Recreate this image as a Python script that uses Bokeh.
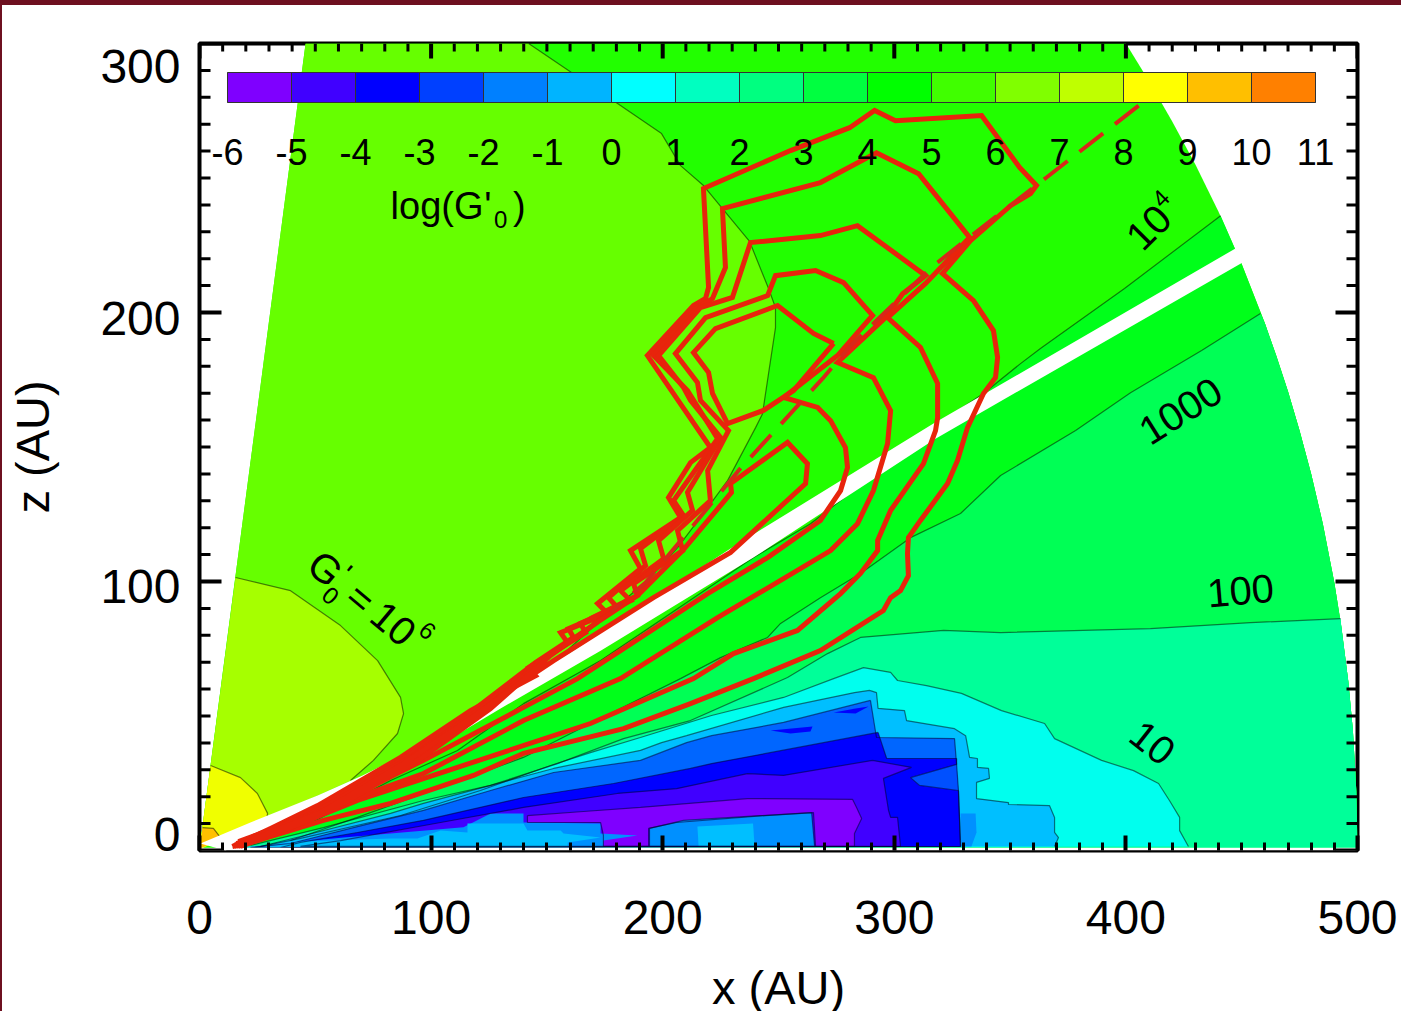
from bokeh.plotting import figure
from bokeh.embed import file_html
from bokeh.resources import INLINE
from bokeh.core.properties import value, field
from bokeh.models import (ColumnDataSource, FixedTicker, LinearAxis, ColorBar,
                          LinearColorMapper, Range1d)

FONT = "Liberation Sans"

# colour scale
levels = list(range(-6, 12))
palette = ["#7f00ff", "#4000ff", "#0000ff", "#0040ff", "#0080ff", "#00b4ff", "#00ffff",
           "#00ffc0", "#00ff80", "#00ff40", "#00ff00", "#40ff00", "#80ff00", "#bfff00",
           "#ffff00", "#ffbf00", "#ff8000"]

# outer rim of the model, AU
rim = [(400, 300), (410, 286), (420, 271), (430, 255), (440, 237.5), (450, 218), (460, 196),
       (465, 183.7), (470, 170.6), (475, 156), (480, 140), (485, 121.6), (490, 99.5),
       (493, 83.3), (496, 63), (498, 44.7), (499.5, 22), (500, 1)]
left_top = (45.8, 300)

# G0' contours, AU
c_1e5 = [(142.1, 300), (160.6, 289.2), (180.5, 277.7), (199.5, 266.5), (207.7, 254.6), (217.6, 247.2),
         (237.5, 226.4), (245.7, 208.9), (248.7, 201.8), (248.7, 194.4), (245.7, 177.3), (243.1, 162.4),
         (240.1, 157.2), (228, 137.5), (216.3, 123.8), (206.4, 112.6), (193.4, 100.4), (174.4, 86.6), (157.2, 73.2)]
c_1e6 = [(15.6, 101.5), (39.3, 96.6), (60.9, 83.6), (76.9, 70.6), (86.8, 56.9), (88.1, 50.9),
         (85.5, 43.5), (75.1, 33.5), (65.2, 26)]
c_1e7 = [(4.8, 31.6), (17.7, 27.1), (25, 21.2), (29.4, 13.8), (28.9, 11.2)]
c_1e8 = [(1.3, 8.5), (6, 8.2), (9.1, 4.8)]
c_1e4 = [(440.9, 236), (399.4, 208.9), (363.1, 186.6), (354.5, 181), (338.5, 169.9), (324.3, 161.7),
         (263.8, 121.5), (239.2, 108.9), (173.2, 70.6), (139.9, 54.6), (111.4, 37.2), (82.5, 26), (43.6, 8.2)]
c_1e3 = [(458.1, 199.6), (432.7, 185.9), (402, 170.2), (378.3, 156.1), (345.9, 139.4), (328.6, 125.3),
         (307, 116.3), (285.4, 103), (268.1, 94), (250.9, 84.4), (245.3, 79.2), (225, 71.7), (207.7, 63.9),
         (168.8, 47.2), (139.9, 34.6), (96.7, 21.2), (68.2, 12.3), (39.3, 3.7)]
c_100 = [(492.7, 86.2), (453.8, 84.7), (410.6, 82.5), (345.9, 81), (321.3, 81.8), (285.4, 79.2),
         (271.2, 73.2), (253.9, 64.3), (212, 48.3), (183.1, 41.6), (154.6, 32.3), (125.7, 24.2),
         (96.7, 18.6), (53.5, 8.5), (22, 1.9)]
c_10 = [(427, 1.5), (423.2, 7.4), (423.2, 12.3), (418.8, 18.6), (414.1, 24.9), (403.3, 29.7), (389.5, 33.5),
        (369.2, 41.6), (364.9, 47.2), (346.3, 52), (329, 58.4), (313.9, 61.3), (301.4, 63.2), (298.4, 66.2),
        (286.7, 68), (273.8, 63.9), (252.2, 56.9), (221.1, 50.2), (190.4, 42), (168.8, 36.4), (151.6, 31.6),
        (121.3, 22.3), (86.8, 13), (43.6, 4.5), (22, 0.7)]
c_m1 = [(369.2, 1.5), (370.9, 4.8), (369.2, 6.7), (369.2, 12.3), (367, 16.7), (349.3, 17.1), (349.3, 17.8),
        (335.5, 19.3), (335.5, 25.3), (341.1, 26.8), (340.7, 30.5), (335.9, 30.9), (335.9, 34.2), (332.5, 34.6),
        (330.8, 42.7), (326, 45.3), (305.3, 48.3), (304.4, 52), (293, 52.8), (292.3, 58.7), (289.3, 59.5),
        (282.8, 58.7), (252.2, 53.2), (210.3, 42.7), (199.5, 40.1), (190.4, 37.2), (152.9, 30.5), (125.7, 24.2),
        (96.7, 17.5), (82.5, 13.8), (43.6, 5.2), (26.3, 1.5)]
c_m2 = [(289.7, 55.8), (292.3, 42), (326, 41.6), (326.9, 32), (327.7, 22.3), (328.6, 1.5), (22, 1.1), (39.3, 2.6),
        (68.2, 8.9), (96.7, 14.9), (125.7, 22.3), (152.9, 29), (190.4, 33.5), (210.3, 40.1), (221.1, 42.7), (252.2, 47.6)]
streak_a = [(273.8, 51.3), (283.3, 52.8), (288.9, 53.5), (283.3, 50.9)]
streak_b = [(246.6, 44.6), (264.7, 46.1), (263.8, 44.2), (255.2, 43.5)]
c_m4 = [(293, 43.9), (296.7, 34.2), (326.9, 34.2), (326.9, 32), (307, 27.1), (310.9, 24.2), (327.7, 22.3),
        (328.6, 1.5), (35, 1.1), (43.6, 3), (68.2, 6.7), (96.7, 11.2), (139.9, 19.7), (178.8, 24.9), (212, 30.5), (221.1, 32.3)]
tongue = [(326.9, 32), (307, 27.1), (310.9, 24.2), (327.7, 22.3)]
c_m5 = [(290.6, 33.5), (307.4, 30.9), (295.3, 26.8), (297.5, 14.9), (298.4, 12.3), (301.4, 12.3), (302.7, 1.5),
        (43.6, 1.5), (60.9, 3.7), (104.1, 10.4), (139.9, 16), (180.5, 21.2), (206, 23), (236.6, 28.6), (252.2, 27.9)]
c_m6 = [(141.6, 13), (165.8, 14.5), (190.4, 16), (236.6, 19.3), (282, 19), (283.7, 16), (285.9, 11.9), (282.8, 6.3),
        (282.8, 1.5), (266, 1.5), (265.1, 14.1), (244.4, 13), (206, 10.4), (193.9, 8.2), (193.9, 1.5), (174.4, 1.5),
        (174.4, 5.6), (173.2, 10.4), (141.6, 10.4)]
low_mid = [(17.7, 1.1), (62.2, 4.8), (114, 8.6), (125.7, 13.8), (139.9, 13.8), (139.9, 10.4), (173.2, 10), (173.2, 6.3),
           (189.1, 5.6), (174.4, 3.7), (174.4, 1.1)]
low_light = [(26.3, 1.1), (44.9, 3.3), (82.5, 4.5), (94.1, 4.5), (104.1, 7.4), (115.7, 6.7), (115.7, 10), (139.9, 10),
             (141.6, 7.4), (155.9, 7.4), (157.2, 6.3), (173.2, 4.8), (159, 3), (159, 1.1)]
box_mid = [(194.3, 8.2), (209, 11.2), (264.3, 14.1), (265.6, 1.5), (194.3, 1.5)]
box_light = [(215, 8.9), (239, 10), (239.7, 1.5), (215.5, 1.5)]
side_mid = [(328.6, 13.8), (335.1, 13.8), (335.5, 6.7), (333.3, 1.5), (328.6, 1.5)]

# empty band between the disk surface and the upper region, AU
gap_upper = [(0.4, 2.6), (22, 10.4), (51, 20.4), (70.4, 27.9), (86.8, 34.9), (117, 50.2), (142.9, 65), (160.2, 73.6),
             (229.3, 112.3), (316.9, 158.7), (447.3, 223.8)]
gap_lower = [(450.4, 218.6), (317.8, 153.1), (239.2, 108.9), (173.2, 74.3), (130, 52.8), (86.8, 30.5), (43.6, 10.4), (11.2, 0)]

# red contours, AU
red_1 = [(14.2, 1.5), (25, 3.7), (53.5, 11.2), (82.5, 17.5), (118.3, 27.9), (139.9, 36.1), (183.1, 45.3), (212, 54.6),
         (239.2, 63.9), (268.1, 74.3), (295.3, 89.2), (298.4, 94), (302.7, 96.6), (306.1, 102.2), (305.7, 110.4),
         (306.1, 116.3), (311.3, 122.7), (323, 136.4), (327.3, 145), (331.6, 157.2), (338.5, 169.9), (343.7, 175.8),
         (344.6, 183.3), (342.8, 193.3), (334.2, 204.4), (320.8, 214.5), (332.9, 226.7), (350.2, 239.7), (358.8, 244.2),
         (361.4, 247.2), (354.1, 253.9), (337.7, 273.2), (300.5, 271.3), (291.5, 275.1), (280.7, 268.7), (263, 262.8),
         (255.2, 260.2), (217.6, 246.1), (219.8, 209.3), (218.5, 205.2), (213.3, 202.6), (193.4, 184), (220.6, 149.8),
         (212, 144.2), (202.5, 131.2), (207.7, 123.8), (186.1, 111.5), (190.4, 104.8), (171.9, 91.8), (176.2, 88.1),
         (155.9, 81), (158.9, 77.3), (142.1, 68), (145.1, 65), (117, 52), (86.8, 34.6), (51, 16.7), (30.7, 8.2), (14.2, 1.5)]
red_2 = [(15.1, 1.9), (39.3, 8.5), (68.2, 18.6), (111.4, 30.9), (168.8, 47.2), (213.3, 63.9), (230.6, 73.2), (258.2, 81.8),
         (276.8, 95.5), (285.4, 103), (292.8, 111.5), (292.8, 115.2), (298.4, 126.4), (312.6, 143.8), (317.8, 156.1),
         (318.7, 160.9), (318.7, 173.6), (311.3, 187), (297.1, 198.1), (313.5, 210.8), (332.5, 227.9), (310.5, 251.6),
         (292.3, 259.4), (268.1, 248.3), (225.8, 238.6), (227.1, 216.7), (221.5, 205.2), (215, 201.8), (196, 184),
         (210.7, 171), (223.7, 153.1), (204.7, 130.1), (209, 124.5), (190.4, 112.3), (192.6, 105.9), (176.6, 94),
         (180.5, 90.3), (159.3, 82.5), (161.5, 79.2), (145.1, 69.9), (119.2, 52.8), (89, 34.6), (52.2, 16.4), (31.5, 7.8), (15.1, 1.5)]
red_3 = [(16, 2.6), (60.9, 17.5), (96.7, 28.6), (139.9, 48.3), (181.8, 63.9), (223.7, 86.6), (250.9, 100.4), (272.5, 111.5),
         (284.1, 121.5), (291, 133.8), (294, 142.4), (297.1, 151.3), (298.4, 163.5), (291, 175.8), (275.5, 181.4), (296.2, 198.1),
         (303.6, 207), (313.5, 213.7), (284.1, 232.3), (268.1, 228.6), (237.9, 226), (230.1, 205.6), (216.3, 201.8), (198.2, 184),
         (209, 172.1), (212, 167.3), (225, 153.5), (210.7, 133.1), (212.9, 126.4), (198.2, 115.2), (200.4, 108.5), (181.8, 96.6),
         (186.1, 92.9), (164.5, 84.4), (166.7, 81), (147.2, 70.6), (121.3, 52.8), (91.1, 34.6), (53.5, 16), (32.4, 7.4), (16, 1.5)]
red_4 = [(16.8, 3.3), (53.5, 14.9), (96.7, 33.5), (139.9, 53.2), (163.2, 63.9), (181.8, 74.3), (219.4, 95.5), (245.3, 108.9),
         (268.1, 122.7), (276.8, 133.8), (279.8, 142.4), (278.9, 149.8), (272.5, 159.8), (266.9, 164.7), (252.2, 168.4), (275.5, 184),
         (290.6, 198.9), (278.1, 211.1), (266, 215.6), (248.7, 213.7), (245.3, 206.3), (218.5, 198.1), (205.5, 184.7), (215, 174),
         (216.3, 167.3), (228.4, 156.1), (219.4, 141.2), (220.6, 130.1), (206.4, 118.9), (208.6, 111.5), (187.4, 99.2), (189.1, 94.8),
         (169.7, 86.6), (171, 84.4), (150.7, 72.5), (123.5, 52.8), (93.3, 34.2), (54.8, 15.2), (33.2, 7.1), (16.8, 1.5)]
red_5 = [(18.6, 2.6), (52.2, 14.1), (86.8, 31.6), (117, 49.1), (138.6, 62.4), (152.9, 70.6), (196, 94), (229.3, 110.8),
         (261.7, 136.4), (262.5, 143.8), (253.9, 151.7), (229.3, 136.4), (229.7, 133.1), (208.6, 111.5), (189.1, 94.8),
         (171, 84.4), (151.6, 72.5), (125.7, 52.8), (95.7, 34.2), (56.7, 14.9), (34.2, 6.7), (17.7, 1.5)]
red_6 = [(273.8, 188.5), (265.1, 192.2), (249.6, 202.6), (222.8, 194), (213.3, 185.1), (219.8, 177.7), (221.5, 169.9),
         (228, 158.7), (243.5, 163.6), (256.5, 171), (273.8, 188.5)]
red_dash = [(405.5, 276.9), (365.7, 250.2), (333.4, 228.6), (316.9, 217.4), (281.1, 187.7), (269, 175.4), (245.7, 153.5),
            (232.7, 141.2), (214.2, 121.9), (192.6, 99.6), (177.5, 88.5)]

# notes on the plot
note_text = ["log(G", "'", "0", ")", "G", "'", "0", "=", "10", "6", "10", "4", "1000", "100", "10"]
note_x = [82.5, 123, 127.2, 135.4, 54.4, 63, 56.6, 69.5, 83.8, 98.5, 409.8, 415, 423.6, 449.5, 411.5]
note_z = [239.5, 239.5, 234.5, 239.5, 104.8, 103, 94.8, 93.7, 84.4, 81.8, 231.7, 242.5, 163.5, 96.6, 40.1]
note_angle = [0, 0, 0, 0, -40, -40, -40, -40, -40, -40, 45, 45, 32, 5, -38]
note_size = ["38px", "38px", "24px", "38px", "40px", "30px", "24px", "40px", "40px", "24px", "40px", "24px", "40px", "40px", "40px"]
note_align = ["left", "left", "left", "left"] + ["center"] * 11

x_ticks = [0, 100, 200, 300, 400, 500]
z_ticks = [0, 100, 200, 300]
minor_step_x = [v for v in range(0, 501, 10) if v not in x_ticks]
minor_step_z = [v for v in range(0, 301, 10) if v not in z_ticks]
z_label_at = {291.4: "300", 197.8: "200", 98.1: "100", 5.9: "0"}

p = figure(width=1401, height=1016, output_backend="svg", toolbar_location=None,
           x_range=Range1d(0, 500), y_range=Range1d(0, 300),
           min_border_left=199, min_border_right=44, min_border_top=43, min_border_bottom=166,
           x_axis_location=None, y_axis_location=None, background_fill_color="white",
           border_fill_color=None)
p.grid.visible = False
p.outline_line_color = "black"
p.outline_line_width = 4


def fill(pts, colour):
    p.patch([a for a, _ in pts], [b for _, b in pts], fill_color=colour, line_color=None)


def edge(pts, colour="#000000", alpha=0.5):
    p.line([a for a, _ in pts], [b for _, b in pts], line_color=colour, line_alpha=alpha, line_width=1.2)


def below(c):
    return c + [(c[-1][0] * 0.4, 1), (500, 1)] + [q for q in reversed(rim) if q[1] < c[0][1]]


# regions from the outside in
fill([(0, 0.5), left_top] + rim, "#22ff00")
fill([(0, 0.5), left_top] + c_1e5 + [(117, 48), (51, 19)], "#66ff00")
fill([(0, 0.5)] + c_1e6, "#a6ff00")
fill([(0, 0.5)] + c_1e7, "#f0ff00")
fill([(0, 0.5)] + c_1e8, "#ffc000")
fill(below(c_1e4), "#00ff1a")
fill(below(c_1e3), "#00ff55")
fill(below(c_100), "#00ff99")
fill(c_10, "#00ffee")
fill(c_m1, "#00bfff")
fill(c_m2, "#0066ff")
fill(streak_a, "#0000ff")
fill(streak_b, "#0000ff")
fill(c_m4, "#0000ff")
fill(tongue, "#0050ff")
fill(c_m5, "#4000ff")
fill(c_m6, "#7f00ff")
fill(low_mid, "#0090ff")
fill(low_light, "#00bfff")
fill(box_mid, "#0090ff")
fill(box_light, "#00bfff")
fill(side_mid, "#0090ff")

for c in (c_1e5, c_1e6, c_1e7, c_1e8, c_1e4, c_1e3, c_100, c_10, c_m1):
    edge(c)
for c in (c_m2, c_m4, c_m5, c_m6, box_mid):
    edge(c + c[:1], "#000033", 0.55)

fill(gap_upper + gap_lower, "#ffffff")
p.patch([0, 500, 500, 0], [0, 0, 1, 1], fill_color="white", line_color=None)

for c in (red_1, red_2, red_3, red_4, red_5, red_6):
    p.line([a for a, _ in c], [b for _, b in c], line_color="#e8240c", line_width=5, line_join="miter")
p.line([a for a, _ in red_dash], [b for _, b in red_dash], line_color="#d8281a", line_width=4, line_dash="30 15")

notes = ColumnDataSource(dict(t=note_text, x=note_x, z=note_z, a=note_angle, s=note_size, al=note_align))
p.text(x="x", y="z", text="t", angle="a", angle_units="deg", text_font=value(FONT), text_font_size=field("s"),
       text_align=field("al"), text_baseline="middle", text_color="black", source=notes)

# inward ticks on the left, right and top sides of the frame, lengths in AU
side_major, side_minor, top_major, top_minor = 9.5, 4.75, 5.6, 3.0
p.segment([0] * len(z_ticks), z_ticks, [side_major] * len(z_ticks), z_ticks, line_color="black", line_width=4)
p.segment([0] * len(minor_step_z), minor_step_z, [side_minor] * len(minor_step_z), minor_step_z, line_color="black", line_width=3)
p.segment([500] * len(z_ticks), z_ticks, [500 - side_major] * len(z_ticks), z_ticks, line_color="black", line_width=4)
p.segment([500] * len(minor_step_z), minor_step_z, [500 - side_minor] * len(minor_step_z), minor_step_z, line_color="black", line_width=3)
p.segment(x_ticks, [300] * len(x_ticks), x_ticks, [300 - top_major] * len(x_ticks), line_color="black", line_width=4)
p.segment(minor_step_x, [300] * len(minor_step_x), minor_step_x, [300 - top_minor] * len(minor_step_x), line_color="black", line_width=3)

bottom = LinearAxis(ticker=FixedTicker(ticks=x_ticks, minor_ticks=minor_step_x), axis_line_color=None,
                    major_tick_in=15, major_tick_out=0, minor_tick_in=8, minor_tick_out=0,
                    major_tick_line_color="black", minor_tick_line_color="black",
                    major_tick_line_width=4, minor_tick_line_width=3,
                    major_label_text_font_size="48px", major_label_text_font=FONT, major_label_text_color="black",
                    major_label_standoff=50, axis_label="x (AU)", axis_label_text_font=FONT,
                    axis_label_text_font_style="normal", axis_label_text_font_size="47px",
                    axis_label_text_color="black", axis_label_standoff=24)
p.add_layout(bottom, "below")

labels = LinearAxis(ticker=FixedTicker(ticks=list(z_label_at)), major_label_overrides=z_label_at,
                    axis_line_color=None, major_tick_line_color=None, minor_tick_line_color=None,
                    major_tick_in=0, major_tick_out=0, major_label_standoff=19,
                    major_label_text_font=FONT, major_label_text_font_size="48px",
                    major_label_text_color="black", major_label_orientation="horizontal",
                    axis_label="z (AU)", axis_label_text_font=FONT, axis_label_text_font_style="normal",
                    axis_label_text_font_size="47px", axis_label_text_color="black", axis_label_standoff=38)
p.add_layout(labels, "left")

mapper = LinearColorMapper(palette=palette, low=levels[0], high=levels[-1])
bar = ColorBar(color_mapper=mapper, orientation="horizontal", width=1088, height=30, location=(28, 683),
               padding=0, margin=0, background_fill_alpha=0, border_line_color=None,
               bar_line_color="#333333", bar_line_width=1,
               ticker=FixedTicker(ticks=levels), major_label_overrides={v: str(v) for v in levels},
               major_tick_in=30, major_tick_out=0, major_tick_line_color="#333333", major_tick_line_width=1,
               minor_tick_line_color=None, label_standoff=36,
               major_label_text_font=FONT, major_label_text_font_size="36px", major_label_text_color="black")
p.add_layout(bar, "center")

html = file_html(p, INLINE)
html = html.replace("</head>", "<style>html{overflow:hidden;background:linear-gradient(#6e1020 5px,transparent 5px),"
                               "linear-gradient(90deg,#6e1020 2px,#ffffff 2px)}</style></head>", 1)
open("out.html", "w").write(html)
